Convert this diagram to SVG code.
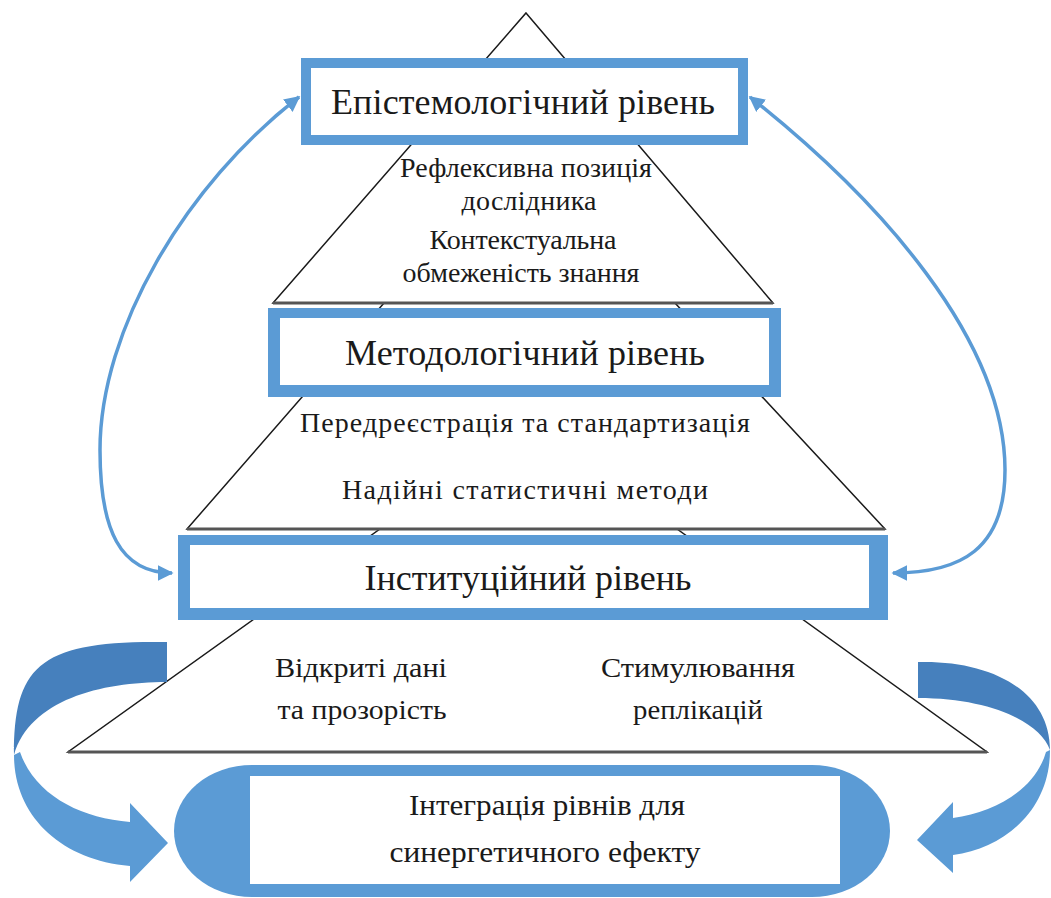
<svg xmlns="http://www.w3.org/2000/svg" width="1051" height="898" viewBox="0 0 1051 898">
<defs>
<style>
.shape{fill:#ffffff;stroke:#1a1a1a;stroke-width:1.5;stroke-linejoin:miter}
.base{stroke:#555555;stroke-width:3;fill:none}
.frame{fill:#5b9bd5}
.inner{fill:#ffffff}
.t{font-family:"Liberation Serif","Times New Roman",serif;fill:#1a1a1a;text-anchor:middle}
.h{font-size:36px}
.s{font-size:28px}
.b{font-size:29px}
.link{fill:none;stroke:#5b9bd5;stroke-width:3.5}
.dark{fill:#4680bd}
.light{fill:#5b9bd5}
</style>
<marker id="ah" viewBox="0 0 10 10" refX="9" refY="5" markerWidth="4.5" markerHeight="4.5" orient="auto-start-reverse" markerUnits="strokeWidth">
<path d="M0,0 L10,5 L0,10 Z" fill="#5b9bd5"/>
</marker>
</defs>
<rect width="1051" height="898" fill="#ffffff"/>

<g id="pyramid">
<polygon class="shape" points="380,529 677,529 987,752 68,752"/>
<polygon class="shape" points="384,303 675,303 885,529 187,529"/>
<polygon class="shape" points="526,13 773,303 273,303"/>
<line class="base" x1="273" y1="303" x2="773" y2="303"/>
<line class="base" x1="187" y1="529" x2="885" y2="529"/>
<line class="base" x1="68" y1="752" x2="987" y2="752"/>
</g>

<g id="epistemological">
<rect class="frame" x="301" y="58" width="447" height="87"/>
<rect class="inner" x="311" y="68" width="427" height="67"/>
<text class="t h" x="523" y="114" textLength="384">Епістемологічний рівень</text>
</g>

<g id="epistemological-content">
<text class="t s" x="526" y="177" textLength="252">Рефлексивна позиція</text>
<text class="t s" x="529" y="210" textLength="135">дослідника</text>
<text class="t s" x="523" y="249" textLength="187">Контекстуальна</text>
<text class="t s" x="521" y="282" textLength="237">обмеженість знання</text>
</g>

<g id="methodological">
<rect class="frame" x="268" y="308" width="513" height="89"/>
<rect class="inner" x="280" y="318" width="489" height="67"/>
<text class="t h" x="525" y="365" textLength="360">Методологічний рівень</text>
</g>

<g id="methodological-content">
<text class="t s" x="525" y="432" textLength="450">Передреєстрація та стандартизація</text>
<text class="t s" x="525" y="499" textLength="366">Надійні статистичні методи</text>
</g>

<g id="institutional">
<rect class="frame" x="178" y="535" width="710" height="85"/>
<rect class="inner" x="190" y="545" width="679" height="63"/>
<text class="t h" x="528" y="590" textLength="327" lengthAdjust="spacingAndGlyphs">Інституційний рівень</text>
</g>

<g id="institutional-content">
<text class="t s" x="361" y="677" textLength="172" lengthAdjust="spacingAndGlyphs">Відкриті дані</text>
<text class="t s" x="362" y="719" textLength="169" lengthAdjust="spacingAndGlyphs">та прозорість</text>
<text class="t s" x="698" y="677" textLength="194" lengthAdjust="spacingAndGlyphs">Стимулювання</text>
<text class="t s" x="698" y="719" textLength="130" lengthAdjust="spacingAndGlyphs">реплікацій</text>
</g>

<g id="connectors">
<path class="link" d="M299,97 C185,185 100,330 100,450 C100,530 120,573 172,573" marker-start="url(#ah)" marker-end="url(#ah)"/>
<path class="link" d="M750,97 C880,200 1005,340 1005,470 C1005,550 960,573 893,573" marker-start="url(#ah)" marker-end="url(#ah)"/>
<path class="dark" d="M167,642 C40,640 14,665 14,755 C30,700 100,682 167,682 Z"/>
<path class="light" d="M14,755 C14,815 60,860 130,866 L130,882 L168,843 L130,803 L130,822 C80,818 35,795 20,752 Z"/>
<path class="dark" d="M918,662 C990,660 1050,690 1050,750 C1040,722 990,698 918,698 Z"/>
<path class="light" d="M1050,750 C1050,810 1005,848 953,855 L953,873 L917,840 L953,802 L953,818 C995,812 1035,790 1046,752 Z"/>
</g>

<g id="integration">
<rect class="frame" x="174" y="765" width="716" height="132" rx="78" ry="66"/>
<rect class="inner" x="250" y="776" width="590" height="108"/>
<text class="t b" x="547" y="815" textLength="276" lengthAdjust="spacingAndGlyphs">Інтеграція рівнів для</text>
<text class="t b" x="545" y="862" textLength="311" lengthAdjust="spacingAndGlyphs">синергетичного ефекту</text>
</g>
</svg>
